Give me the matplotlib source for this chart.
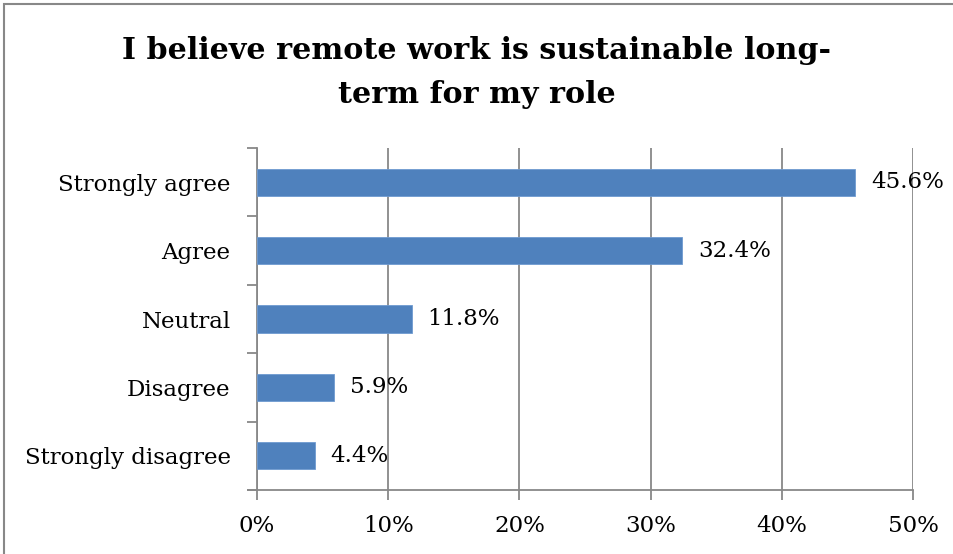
import matplotlib.pyplot as plt
from matplotlib.patches import Rectangle
import numpy as np

categories = ["Strongly agree", "Agree", "Neutral", "Disagree", "Strongly disagree"]
values = [45.6, 32.4, 11.8, 5.9, 4.4]
xticks = [0, 10, 20, 30, 40, 50]
title_lines = ["I believe remote work is sustainable long-", "term for my role"]

plt.rcParams['font.family'] = ['DejaVu Serif']

fig = plt.figure(figsize=(9.54, 5.54), dpi=100)
ax = fig.add_axes([257/954, 1 - 490/554, (913 - 257)/954, (490 - 148)/554])

# outer chart frame
fig.patches.append(Rectangle((4/954, -0.01), 1.0, 1 - 4/554 + 0.01, transform=fig.transFigure,
                             fill=False, edgecolor='#888888', linewidth=1.5))

pos = np.arange(len(categories))
ax.barh(pos, values, height=0.4, color='#4F81BD', edgecolor='#6F9AD0', linewidth=0.6, zorder=3)
for p, v in zip(pos, values):
    ax.text(v + 1.2, p, f"{v:.1f}%", va='center', ha='left', fontsize=16.5, zorder=4)

ax.set_xlim(0, 50)
ax.set_ylim(len(categories) - 0.5, -0.5)
ax.set_xticks(xticks)
ax.set_xticklabels([f"{t}%" for t in xticks], fontsize=16.5)
ax.set_yticks(pos)
ax.set_yticklabels(categories, fontsize=16.5)
ax.tick_params(axis='y', length=0, pad=19)
ax.set_yticks(np.arange(-0.5, len(categories)), minor=True)
ax.tick_params(axis='y', which='minor', length=7, color='#888888', width=1.3)
ax.tick_params(axis='x', length=7, color='#888888', width=1.3, pad=11)

ax.grid(axis='x', color='#888888', linewidth=1.3, zorder=0)
for s in ['top', 'right']:
    ax.spines[s].set_visible(False)
for s in ['left', 'bottom']:
    ax.spines[s].set_color('#888888')
    ax.spines[s].set_linewidth(1.3)
ax.spines['bottom'].set_bounds(-0.7, 50)

# two-line bold title
for line, base in zip(title_lines, [59, 103]):
    fig.text(0.5, 1 - base/554, line, ha='center', va='baseline', fontsize=21.7,
             fontweight='bold')

fig.savefig('out.png', dpi=100)
